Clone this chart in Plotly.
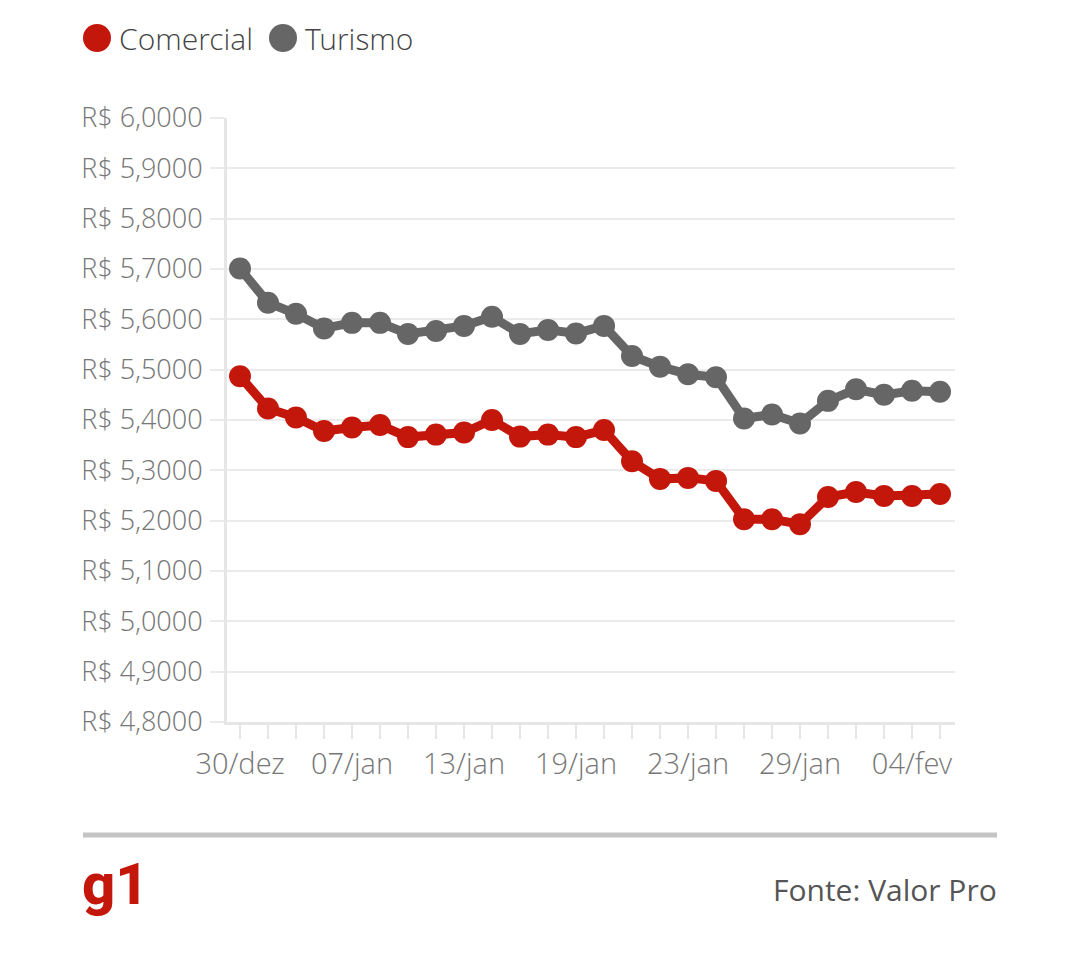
import plotly.graph_objects as go

datas = ["30/dez", "02/jan", "03/jan", "06/jan", "07/jan", "08/jan", "09/jan", "10/jan",
         "13/jan", "14/jan", "15/jan", "16/jan", "19/jan", "20/jan", "21/jan", "22/jan",
         "23/jan", "26/jan", "27/jan", "28/jan", "29/jan", "30/jan", "31/jan", "03/fev",
         "04/fev", "05/fev"]

comercial = [5.487, 5.423, 5.405, 5.378, 5.385, 5.390, 5.366, 5.371, 5.375, 5.400,
             5.367, 5.371, 5.366, 5.380, 5.318, 5.283, 5.285, 5.279, 5.203, 5.203,
             5.193, 5.247, 5.257, 5.249, 5.249, 5.253]

turismo = [5.701, 5.633, 5.611, 5.582, 5.593, 5.593, 5.571, 5.577, 5.587, 5.605,
           5.571, 5.579, 5.572, 5.587, 5.527, 5.506, 5.491, 5.485, 5.403, 5.411,
           5.393, 5.438, 5.461, 5.450, 5.458, 5.456]

rotulos_x = ["30/dez", "07/jan", "13/jan", "19/jan", "23/jan", "29/jan", "04/fev"]
series = ["Comercial", "Turismo"]

RED = "#c4170c"
GRAY = "#666666"
FONT = "Open Sans Light, Open Sans"
OFF = 8  # page body margin

fig = go.Figure()
fig.add_trace(go.Scatter(x=datas, y=turismo, name=series[1], mode="lines+markers",
                         line=dict(color=GRAY, width=9), marker=dict(color=GRAY, size=22),
                         showlegend=False, cliponaxis=False))
fig.add_trace(go.Scatter(x=datas, y=comercial, name=series[0], mode="lines+markers",
                         line=dict(color=RED, width=9), marker=dict(color=RED, size=22),
                         showlegend=False, cliponaxis=False))

ticktext = [d if d in rotulos_x else "" for d in datas]

# plot-area edges in screenshot pixels
L, R, T, B = 227, 955, 118, 722
W, H = R - L, B - T
def px(x):
    return (x - L) / W
def py(y):
    return (B - y) / H

fig.update_layout(
    width=1080, height=975,
    margin=dict(l=L - OFF, r=1080 - (R - OFF), t=T - OFF, b=975 - (B - OFF)),
    paper_bgcolor="white", plot_bgcolor="white",
    separators=",.",
    font=dict(family=FONT, color="#777777"),
    xaxis=dict(type="category", range=[-13 / 28, 25 + 15 / 28],
               tickvals=datas, ticktext=ticktext,
               ticks="outside", ticklen=14, tickwidth=2, tickcolor="#e6e6e6",
               showline=True, linecolor="#e6e6e6", linewidth=3,
               showgrid=False, zeroline=False,
               tickfont=dict(size=29, color="#777777", family=FONT, weight=300)),
    yaxis=dict(range=[4.8, 6.0], dtick=0.1, tick0=4.8,
               tickprefix="R$ ", tickformat=".4f",
               showgrid=True, gridcolor="#ebebeb", gridwidth=2,
               showline=True, linecolor="#e6e6e6", linewidth=3, zeroline=False,
               ticks="outside", ticklen=14, tickwidth=2, tickcolor="#ebebeb",
               ticklabelstandoff=2,
               tickfont=dict(size=27, color="#777777", family=FONT, weight=300)),
)

shapes = []
shapes.append(dict(type="line", xref="paper", yref="paper", x0=px(83), x1=px(997),
                   y0=py(835), y1=py(835), line=dict(color="#c4c4c4", width=5)))
for cx, col in [(97, RED), (283, GRAY)]:
    shapes.append(dict(type="circle", xref="paper", yref="paper",
                       xsizemode="pixel", ysizemode="pixel",
                       xanchor=px(cx), yanchor=py(38),
                       x0=-14, x1=14, y0=-14, y1=14,
                       fillcolor=col, line=dict(width=0)))
fig.update_layout(shapes=shapes)

annotations = [
    dict(text=series[0], x=px(117), y=py(38), xref="paper", yref="paper",
         xanchor="left", yanchor="middle", showarrow=False,
         font=dict(size=30, color="#444444", family=FONT, weight=300)),
    dict(text=series[1], x=px(303), y=py(38), xref="paper", yref="paper",
         xanchor="left", yanchor="middle", showarrow=False,
         font=dict(size=30, color="#444444", family=FONT, weight=300)),
    dict(text="g1", x=px(80), y=py(884), xref="paper", yref="paper",
         xanchor="left", yanchor="middle", showarrow=False,
         font=dict(size=58, color=RED, family="Roboto", weight=800)),
    dict(text="Fonte: Valor Pro", x=px(999), y=py(889), xref="paper", yref="paper",
         xanchor="right", yanchor="middle", showarrow=False,
         font=dict(size=30, color="#555555", family="Open Sans")),
]
fig.update_layout(annotations=annotations)

fig.write_html("out.html")
